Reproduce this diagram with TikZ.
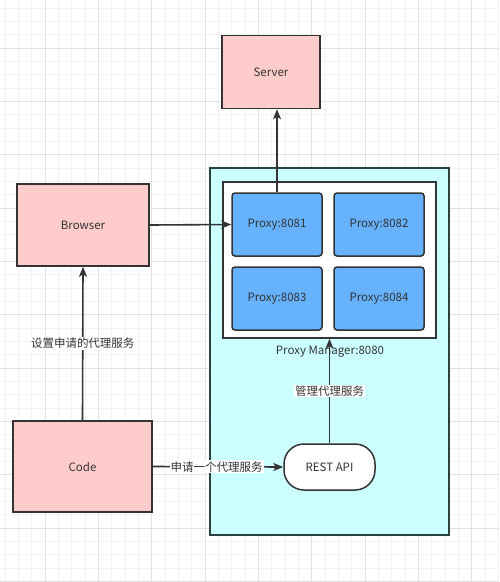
\documentclass[tikz,border=0pt]{standalone}
\usepackage{fontspec}
\setmainfont{Noto Sans CJK SC}
\usetikzlibrary{arrows.meta}
\definecolor{pinkfill}{HTML}{FFCCCC}
\definecolor{bluefill}{HTML}{66B2FF}
\definecolor{cyanfill}{HTML}{CCFFFF}
\definecolor{edge}{HTML}{333333}
\definecolor{txt}{HTML}{333333}
\definecolor{gridminor}{HTML}{F2F2F2}
\definecolor{gridmajor}{HTML}{E2E2E2}
\tikzset{
  box/.style={draw=edge, line width=1.5pt, text=txt, font=\fontsize{11.5}{14}\selectfont, inner sep=0pt},
  pinkbox/.style={box, fill=pinkfill},
  proxybox/.style={box, fill=bluefill, rounded corners=3pt, minimum width=90pt, minimum height=63pt},
  arr/.style={draw=edge, line width=1.6pt, -{Stealth[length=10pt,width=8pt,inset=2.5pt]}},
  lbl/.style={fill=white, text=txt, font=\fontsize{11.5}{14}\selectfont, inner sep=1pt}
}
\begin{document}
\begin{tikzpicture}[x=1pt,y=-1pt]
\useasboundingbox (0,0) rectangle (499,582);
\fill[white] (0,0) rectangle (499,582);
% grid
\foreach \i in {0,...,37}{
  \pgfmathsetmacro{\gx}{5+\i*13.333}
  \draw[gridminor, line width=0.6pt] (\gx,0) -- (\gx,582);
}
\foreach \i in {0,...,43}{
  \pgfmathsetmacro{\gy}{8+\i*13.333}
  \draw[gridminor, line width=0.6pt] (0,\gy) -- (499,\gy);
}
\foreach \i in {0,...,9}{
  \pgfmathsetmacro{\gx}{-8.33+\i*53.333}
  \draw[gridmajor, line width=0.7pt] (\gx,0) -- (\gx,582);
}
\foreach \i in {0,...,11}{
  \pgfmathsetmacro{\gy}{-5.33+\i*53.333}
  \draw[gridmajor, line width=0.7pt] (0,\gy) -- (499,\gy);
}
% nodes
\node[pinkbox, minimum width=98pt, minimum height=73pt] (server) at (271,72) {Server};
\node[box, fill=cyanfill, draw=edge!80!teal, minimum width=239pt, minimum height=367pt] (pm) at (329.5,351.5) {};
\node[box, fill=white, minimum width=213pt, minimum height=156pt] (wb) at (329.5,260) {};
\node[proxybox] (p1) at (277,224.5) {Proxy:8081};
\node[proxybox] (p2) at (379,224.5) {Proxy:8082};
\node[proxybox] (p3) at (277,298.5) {Proxy:8083};
\node[proxybox] (p4) at (379,298.5) {Proxy:8084};
\node[text=txt, font=\fontsize{11.5}{14}\selectfont, inner sep=0pt] (pmlabel) at (330,352) {Proxy Manager:8080};
\node[pinkbox, minimum width=132pt, minimum height=82pt] (browser) at (83,225) {Browser};
\node[pinkbox, minimum width=139pt, minimum height=91pt] (code) at (82.5,466.5) {Code};
\node[box, fill=white, rounded corners=20pt, minimum width=91pt, minimum height=46pt] (rest) at (329.5,467) {REST API};
% connectors
\draw[arr] (p1.north) -- (p1.north |- server.south);
\draw[arr] (browser.east) -- (p1.west);
\draw[arr] (code.north) -- node[lbl, pos=0.5]{设置申请的代理服务} (browser.south);
\draw[arr] (code.east) -- node[lbl, pos=0.49]{申请一个代理服务} (rest.west);
\draw[arr] (rest.north) -- node[lbl, pos=0.5]{管理代理服务} (wb.south);
\end{tikzpicture}
\end{document}
